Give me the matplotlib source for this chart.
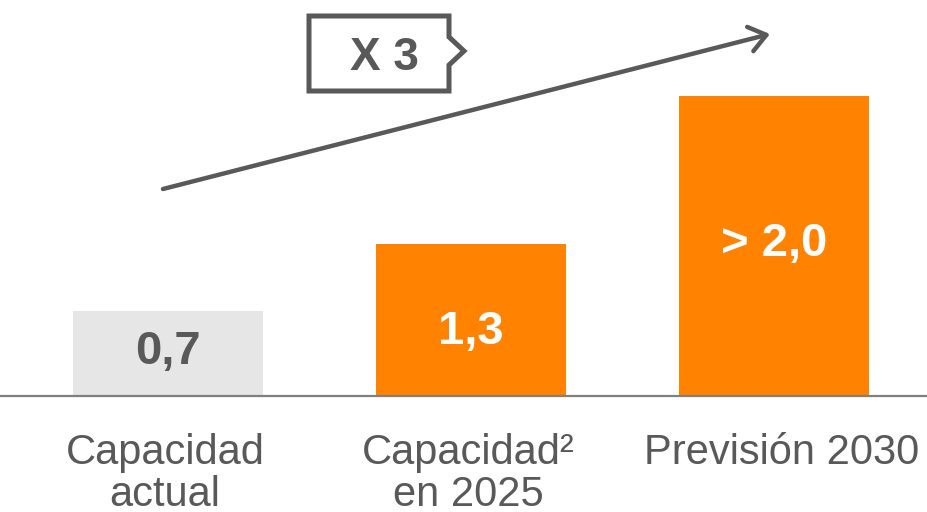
import matplotlib.pyplot as plt
from matplotlib.patches import Polygon

plt.rcParams['font.family'] = ['Liberation Sans', 'DejaVu Sans']

# Data
categories = ['Capacidad\nactual', 'Capacidad²\nen 2025', 'Previsión 2030']
heights = [0.7, 1.25, 2.47]          # bar heights as drawn
value_labels = ['0,7', '1,3', '> 2,0']
bar_colors = ['#e6e6e6', '#ff8200', '#ff8200']
label_colors = ['#595959', 'white', 'white']
growth_text = 'X 3'

W, H = 927, 512
fig = plt.figure(figsize=(W / 100, H / 100), dpi=100)
ax = fig.add_axes([0, 0, 1, 1])

# pixel geometry of the reference
px_x = 303.0     # px between bar centres
px_y = 121.4     # px per unit of height
base = 396       # baseline pixel (from top)
x0 = 168         # first bar centre pixel

ax.set_xlim(-x0 / px_x, (W - x0) / px_x)
ax.set_ylim(-(H - base) / px_y, base / px_y)
ax.axis('off')

def py(ypix):
    return (base - ypix) / px_y

def pxx(xpix):
    return (xpix - x0) / px_x

xs = range(len(categories))
ax.bar(xs, heights, width=190 / px_x, color=bar_colors, zorder=2)
ax.axhline(0, color='#7f7f7f', lw=1.6, zorder=3)

label_y = [352, 332, 244]
for x, lab, c, ly in zip(xs, value_labels, label_colors, label_y):
    ax.text(x, py(ly), lab, ha='center', va='center', fontsize=34,
            fontweight='bold', color=c, zorder=4)

cat_dx = [-3, -3, 8]
for x, cat, dx in zip(xs, categories, cat_dx):
    ax.text(x + dx / px_x, py(433), cat, ha='center', va='top', fontsize=30,
            color='#595959', linespacing=1.07)

# growth arrow
ax.annotate('', xy=(pxx(770), py(34)), xytext=(pxx(163), py(189)),
            arrowprops=dict(arrowstyle='->,head_length=1.2,head_width=0.9',
                            color='#595959', lw=3.2, mutation_scale=10,
                            shrinkA=0, shrinkB=0))

# tag box "X 3"
pts = [(309, 16), (449, 16), (449, 37), (464, 51), (449, 65), (449, 91), (309, 91)]
tag = Polygon([(pxx(a), py(b)) for a, b in pts], closed=True, fill=True,
              facecolor='white', edgecolor='#595959', lw=3.6, joinstyle='miter')
ax.add_patch(tag)
ax.text(pxx(384), py(58), growth_text, ha='center', va='center', fontsize=33,
        fontweight='bold', color='#595959')

fig.savefig('out.png', dpi=100)
